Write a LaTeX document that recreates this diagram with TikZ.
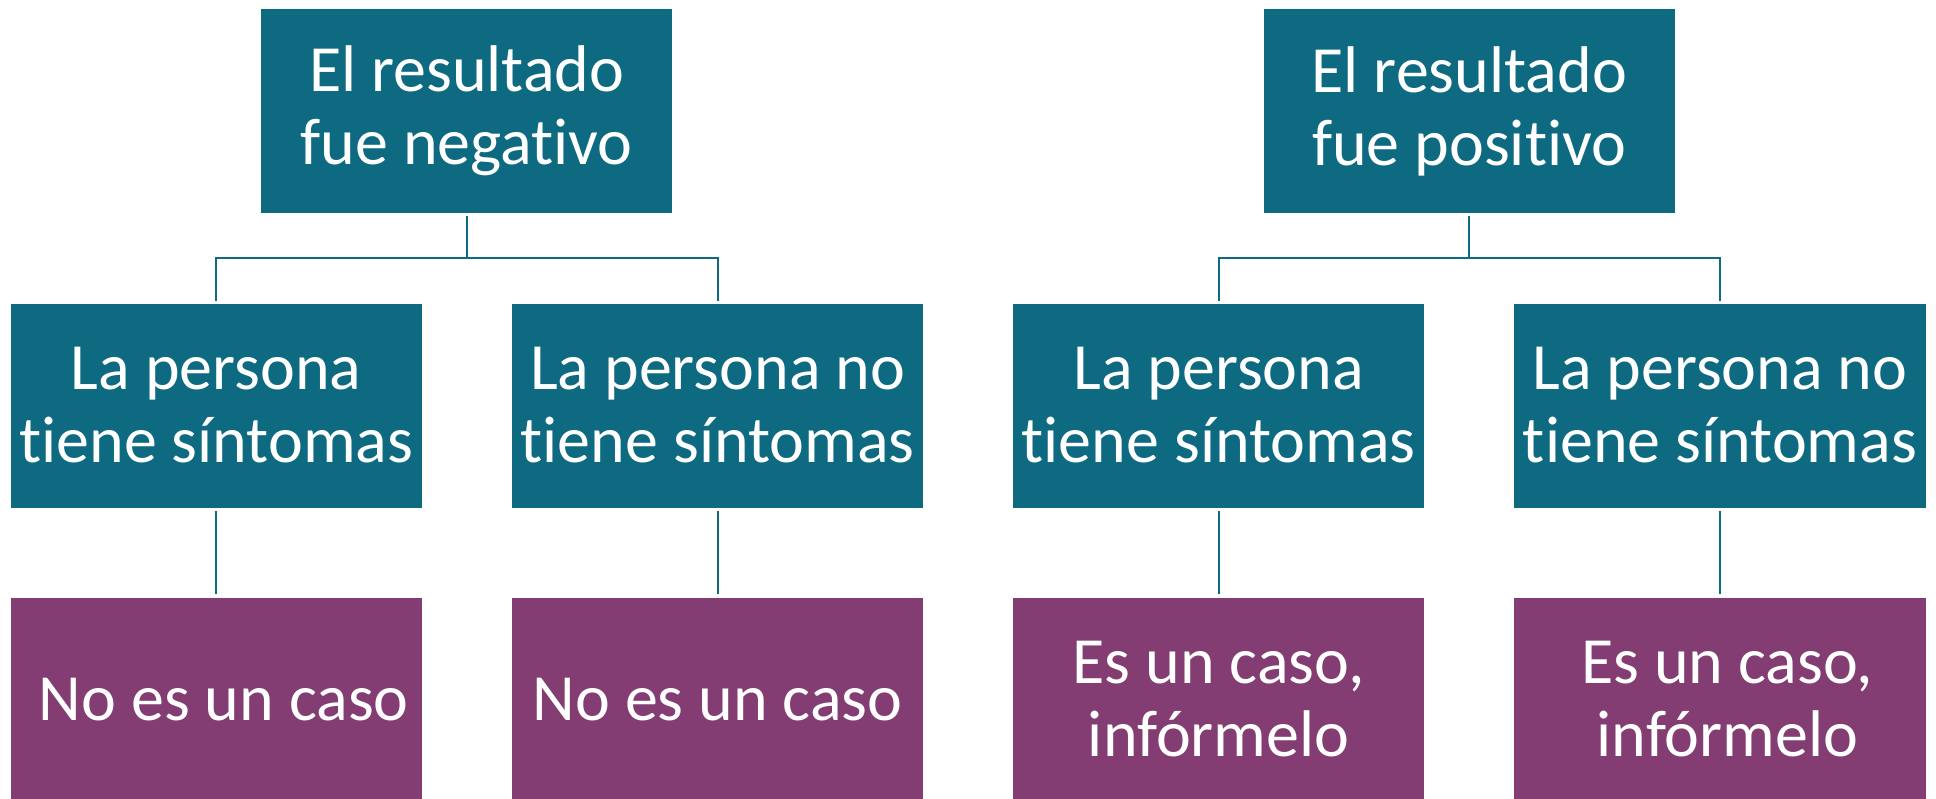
\documentclass[tikz,border=0pt]{standalone}
\usepackage{fontspec}
\setmainfont[Ligatures=NoCommon]{Carlito}
\definecolor{teal}{HTML}{0E6A81}
\definecolor{plum}{HTML}{833D72}
\begin{document}
\begin{tikzpicture}[x=1pt,y=-1pt,
  box/.style={anchor=north west, minimum width=411.5pt, minimum height=204pt, inner sep=0pt,
    align=center, text=white, font=\fontsize{66}{73}\selectfont},
  tbox/.style={box, fill=teal},
  pbox/.style={box, fill=plum},
  conn/.style={draw=teal, line width=2pt}]
\useasboundingbox (0,0) rectangle (1936,798);
\node[tbox] (t1) at (260.7,9) {El resultado\\fue negativo};
\node[tbox] (t2) at (1263.3,9) {El resultado\\fue positivo};
\node[tbox] (a1) at (10.3,303.3) {La persona\\tiene síntomas};
\node[tbox] (a2) at (511.7,303.3) {La persona no\\tiene síntomas};
\node[tbox] (a3) at (1012.7,303.3) {La persona\\tiene síntomas};
\node[tbox] (a4) at (1514,303.3) {La persona no\\tiene síntomas};
\node[pbox] (b1) at (10.3,597.3) {\hspace*{15pt}No es un caso};
\node[pbox] (b2) at (511.7,597.3) {No es un caso};
\node[pbox] (b3) at (1012.7,597.3) {Es un caso,\\infórmelo};
\node[pbox] (b4) at (1514,597.3) {\hspace*{15pt}Es un caso,\\\hspace*{15pt}infórmelo};
\coordinate (j1) at (t1.south |- 0,257.7);
\coordinate (j2) at (t2.south |- 0,257.7);
\draw[conn, shorten <=3pt] (t1.south) -- (j1);
\draw[conn, shorten >=2pt] (j1) -| (a1.north);
\draw[conn, shorten >=2pt] (j1) -| (a2.north);
\draw[conn, shorten <=3pt] (t2.south) -- (j2);
\draw[conn, shorten >=2pt] (j2) -| (a3.north);
\draw[conn, shorten >=2pt] (j2) -| (a4.north);
\draw[conn, shorten <=3pt, shorten >=3pt] (a1.south) -- (b1.north);
\draw[conn, shorten <=3pt, shorten >=3pt] (a2.south) -- (b2.north);
\draw[conn, shorten <=3pt, shorten >=3pt] (a3.south) -- (b3.north);
\draw[conn, shorten <=3pt, shorten >=3pt] (a4.south) -- (b4.north);
\end{tikzpicture}
\end{document}
